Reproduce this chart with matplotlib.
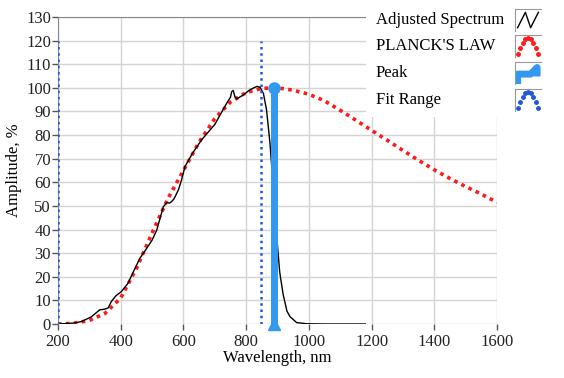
import matplotlib
matplotlib.use("Agg")
import matplotlib.pyplot as plt
from matplotlib.patches import Rectangle
import numpy as np

plt.rcParams['font.family'] = ['Liberation Serif', 'DejaVu Serif']

spec_nm = [200, 250, 274, 306, 333, 349, 360, 370, 385, 402, 423, 440, 461, 480, 500, 515,
           536, 547, 556, 562, 570, 584, 594, 605, 630, 658, 700, 738, 750, 754, 759, 764,
           770, 791, 812, 834, 844, 855, 865, 876, 887, 897, 907, 918, 930, 940, 961, 993,
           1050, 1100, 1180]
spec_val = [0, 0.4, 1, 3, 6, 6.3, 6.8, 9.5, 12, 13.7, 17.2, 22, 27.8, 31.5, 35.5, 39.8,
            49.7, 51.4, 51.2, 51.8, 53, 56.8, 61, 66.7, 72.5, 78, 84.5, 93.5, 96, 98.4, 98.9, 96.3,
            95.3, 97, 99.2, 100.6, 100.3, 97.7, 90.7, 76.6, 56.8, 38, 22, 12.5, 5.5, 3.1, 0.6, 0.1,
            0, 0, 0]

# Planck's law fit
planck_nm = [200, 250, 300, 350, 400, 450, 500, 550, 600, 650, 700, 750, 800, 850, 900,
             950, 1000, 1050, 1100, 1150, 1200, 1250, 1300, 1350, 1400, 1450, 1500, 1550, 1600]
planck_val = [0, 0.3, 1.5, 4.5, 11, 23.5, 38.5, 53, 65, 77, 87, 94, 98, 99.8, 100,
              99, 97.3, 94.5, 90.5, 86.3, 82, 77.8, 73.5, 69.3, 65.3, 61.6, 58.2, 55, 51.5]

peak_nm = 890
peak_val = 100
fit_range = [200, 847]
fit_top = 120

xticks = [200, 400, 600, 800, 1000, 1200, 1400, 1600]
yticks = list(range(0, 131, 10))

legend_labels = ["Adjusted Spectrum", "PLANCK'S LAW", "Peak", "Fit Range"]

blue = '#3399f0'
fit_blue = '#1f55e0'

fig = plt.figure(figsize=(5.64, 3.78), dpi=100)
ax = fig.add_axes([58/564, 1 - 324/378, (497 - 58)/564, (324 - 17)/378])

ax.set_xlim(200, 1600)
ax.set_ylim(0, 130)
ax.set_xticks(xticks)
ax.set_yticks(yticks)
ax.grid(True, color='#d4d4d4', linewidth=1)
ax.set_axisbelow(True)
for s in ['right', 'bottom']:
    ax.spines[s].set_visible(False)
for s in ['left', 'top']:
    ax.spines[s].set_color('#888888')
ax.tick_params(labelsize=12, colors='#222222', length=4, width=1, pad=1)
ax.tick_params(axis='x', pad=3)
ax.tick_params(axis='both', color='#555555')

ax.plot(planck_nm, planck_val, color='#ff1a1a', linestyle=(0, (1, 1.2)), linewidth=2.6, zorder=3)
ax.plot(spec_nm, spec_val, color='black', linewidth=1, zorder=4)

for x in fit_range:
    ax.plot([x, x], [0, fit_top], color=fit_blue, linestyle=(0, (1, 1.5)), linewidth=1.8, zorder=5)

ax.plot([peak_nm, peak_nm], [0, peak_val], color=blue, linewidth=5, zorder=6, solid_capstyle='butt')
ax.plot([peak_nm], [peak_val], 'o', color=blue, markersize=8, zorder=7)
ax.plot([peak_nm], [0], '^', color=blue, markersize=8, zorder=7, clip_on=False)

ax.set_xlabel("Wavelength, nm", fontsize=12, labelpad=0)
ax.set_ylabel("Amplitude, %", fontsize=12, labelpad=3)

# legend area (covers the plot's top-right corner)
fig.patches.append(Rectangle((366/564, 1 - 117/378), 1, 1, transform=fig.transFigure,
                             facecolor='white', edgecolor='none', zorder=1))
ys = [20, 46, 73, 100]
for lab, y in zip(legend_labels, ys):
    fig.text(376/564, 1 - y/378, lab, fontsize=12, va='center', ha='left', zorder=2)

for i, y in enumerate(ys):
    iax = fig.add_axes([515/564, 1 - (y + 11)/378, 26/564, 22/378], zorder=3)
    iax.set_xlim(0, 1)
    iax.set_ylim(0, 1)
    iax.set_xticks([])
    iax.set_yticks([])
    for s in ['right', 'bottom']:
        iax.spines[s].set_visible(False)
    for s in ['left', 'top']:
        iax.spines[s].set_color('#999999')
    t = np.linspace(0.1, 0.9, 9)
    arch = 0.15 + 0.7 * np.sin((t - 0.1) / 0.8 * np.pi)
    if i == 0:
        iax.plot([0.1, 0.4, 0.6, 0.9], [0.15, 0.85, 0.15, 0.85], color='black', linewidth=1)
    elif i == 1:
        iax.plot(t, arch, color='#ff1a1a', linestyle='none', marker='o', markersize=2.5)
    elif i == 2:
        iax.plot([0.1, 0.1, 0.6, 0.85, 0.85], [0.15, 0.45, 0.45, 0.75, 0.5], color=blue, linewidth=5)
    else:
        iax.plot(t, arch, color=fit_blue, linestyle='none', marker='o', markersize=2.5)

fig.savefig("out.png", dpi=100)
